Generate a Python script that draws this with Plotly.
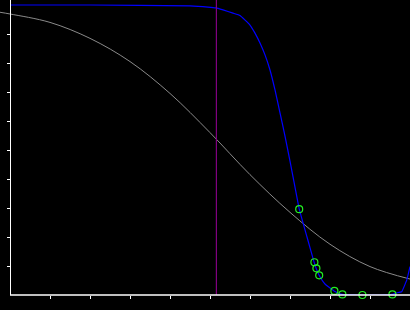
import plotly.graph_objects as go

# ---- data ----
gray_x = [-0.25, 0, 1, 2, 3, 4, 5, 6, 7, 8, 9, 10]
gray_y = [0.975, 0.969, 0.940, 0.885, 0.805, 0.695, 0.560, 0.415, 0.285, 0.175, 0.098, 0.055]

blue_x = [0.0, 2.0, 4.5, 4.95, 5.15, 5.325, 5.575, 5.75, 6.0, 6.125, 6.25, 6.375, 6.5,
          6.625, 6.75, 6.875, 7.0, 7.125, 7.23, 7.425, 7.6, 7.65, 7.725, 7.875, 8.1,
          8.3, 8.8, 9.25, 9.55, 9.65, 9.79, 9.92, 10.0]
blue_y = [1.0, 1.0, 0.997, 0.993, 0.990, 0.983, 0.972, 0.964, 0.931, 0.903, 0.869, 0.828, 0.776,
          0.707, 0.628, 0.548, 0.462, 0.372, 0.297, 0.200, 0.114, 0.093, 0.069, 0.038, 0.014,
          0.002, 0.0, 0.0, 0.002, 0.007, 0.011, 0.052, 0.098]

point_x = [7.23, 7.61, 7.66, 7.73, 8.11, 8.31, 8.81, 9.56]
point_y = [0.296, 0.113, 0.092, 0.068, 0.014, 0.002, 0.0, 0.002]

threshold_x = 5.16

x_tick_values = [1, 2, 3, 4, 5, 6, 7, 8, 9]
y_tick_values = [0.1, 0.2, 0.3, 0.4, 0.5, 0.6, 0.7, 0.8, 0.9]

x_range = [-0.25, 10.0]
y_range = [0.0, 295 / 290]

fig = go.Figure()
fig.add_trace(go.Scatter(x=gray_x, y=gray_y, mode="lines",
                         line=dict(color="#8a8a8a", width=1, shape="spline", smoothing=1.0),
                         hoverinfo="skip"))
fig.add_trace(go.Scatter(x=blue_x, y=blue_y, mode="lines",
                         line=dict(color="#0000ff", width=1.2, shape="spline", smoothing=0.3),
                         hoverinfo="skip"))
fig.add_trace(go.Scatter(x=[threshold_x, threshold_x], y=y_range, mode="lines",
                         line=dict(color="#800080", width=1.2), hoverinfo="skip"))
fig.add_trace(go.Scatter(x=point_x, y=point_y, mode="markers",
                         marker=dict(symbol="circle-open", size=7, color="#22ee22",
                                     line=dict(width=1.2, color="#22ee22")),
                         cliponaxis=False, hoverinfo="skip"))

fig.update_layout(
    width=410, height=310,
    margin=dict(l=0, r=0, t=0, b=15),
    paper_bgcolor="black", plot_bgcolor="black",
    showlegend=False,
    xaxis=dict(range=x_range, showgrid=False, zeroline=False, showline=False,
               tickmode="array", tickvals=x_tick_values, ticks="outside",
               ticklen=3, tickwidth=1, tickcolor="white", showticklabels=False,
               fixedrange=True),
    yaxis=dict(range=y_range, showgrid=False, zeroline=False, showline=True,
               linecolor="white", linewidth=1,
               anchor="free", position=10 / 410,
               tickmode="array", tickvals=y_tick_values, ticks="outside",
               ticklen=3, tickwidth=1, tickcolor="white", showticklabels=False,
               fixedrange=True),
    shapes=[dict(type="line", xref="paper", yref="paper", x0=10 / 410, x1=1,
                 y0=0, y1=0, line=dict(color="white", width=1.5), layer="above")],
)

fig.write_html("out.html")
